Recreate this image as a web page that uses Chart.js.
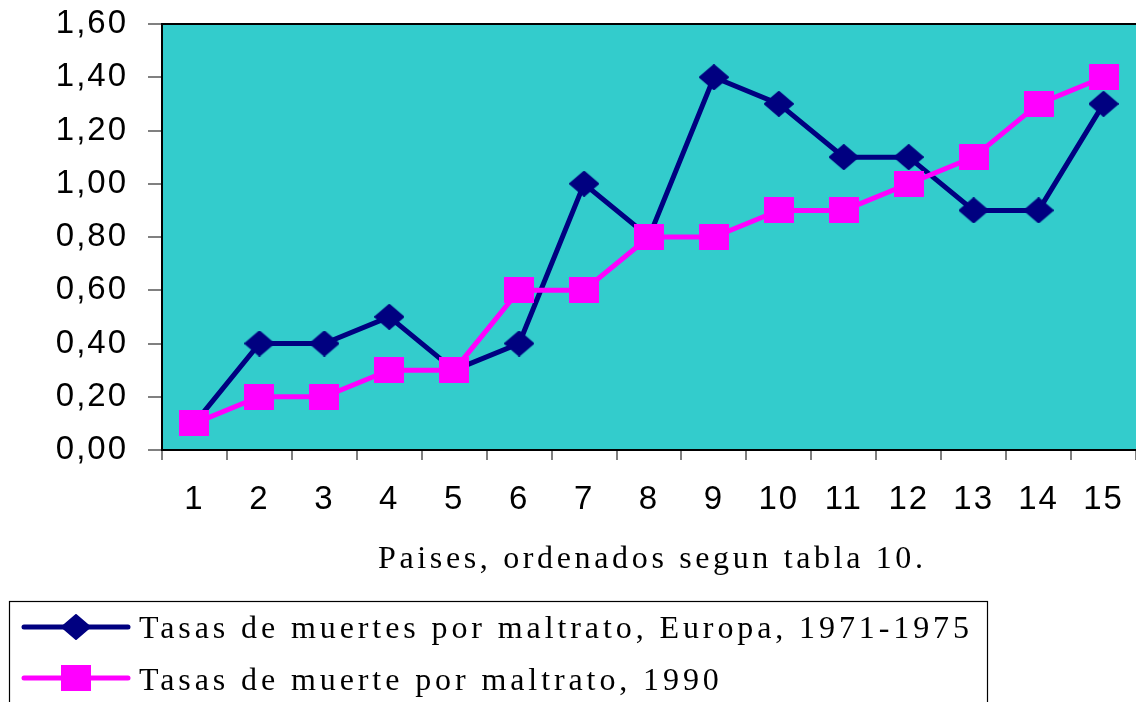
<!DOCTYPE html>
<html>
<head>
<meta charset="utf-8">
<script src="https://cdn.jsdelivr.net/npm/chart.js@4.4.1/dist/chart.umd.min.js"></script>
<style>
  html, body { margin: 0; padding: 0; background: #fff; }
</style>
</head>
<body>
<canvas id="myChart" width="1136" height="702"></canvas>
<script>
const paises = ['1', '2', '3', '4', '5', '6', '7', '8', '9', '10', '11', '12', '13', '14', '15'];
const europa7175 = [0.1, 0.4, 0.4, 0.5, 0.3, 0.4, 1.0, 0.8, 1.4, 1.3, 1.1, 1.1, 0.9, 0.9, 1.3];
const muerte1990 = [0.1, 0.2, 0.2, 0.3, 0.3, 0.6, 0.6, 0.8, 0.8, 0.9, 0.9, 1.0, 1.1, 1.3, 1.4];
const nombreEuropa = 'Tasas de muertes por maltrato, Europa, 1971-1975';
const nombre1990 = 'Tasas de muerte por maltrato, 1990';
const tituloX = 'Paises, ordenados segun tabla 10.';

const azul = '#000080';
const rosa = '#ff00ff';

// marcas como pequeños canvas
function rombo(w, h) {
    const c = document.createElement('canvas');
    c.width = w; c.height = h;
    const g = c.getContext('2d');
    g.fillStyle = azul; g.strokeStyle = azul;
    g.lineWidth = 2; g.lineJoin = 'round';
    g.beginPath();
    g.moveTo(w / 2, 1); g.lineTo(w - 1, h / 2); g.lineTo(w / 2, h - 1); g.lineTo(1, h / 2);
    g.closePath(); g.fill(); g.stroke();
    return c;
}
function cuadro(w, h) {
    const c = document.createElement('canvas');
    c.width = w; c.height = h;
    const g = c.getContext('2d');
    g.fillStyle = rosa;
    g.fillRect(0, 0, w, h);
    return c;
}
const marcaRombo = rombo(30, 26);
const marcaCuadro = cuadro(30, 26);

// texto con espaciado para ocupar un ancho dado
function espaciado(ctx, txt, ancho, font) {
    ctx.save();
    ctx.font = font;
    ctx.letterSpacing = '0px';
    const w0 = ctx.measureText(txt).width;
    ctx.restore();
    return (ancho - w0) / (txt.length - 1);
}
function texto(ctx, txt, x, y, sp, font) {
    ctx.save();
    ctx.font = font;
    ctx.letterSpacing = sp + 'px';
    ctx.fillStyle = '#000';
    ctx.textAlign = 'left';
    ctx.textBaseline = 'alphabetic';
    ctx.fillText(txt, x, y);
    ctx.restore();
}

const fondo = {
    id: 'fondo',
    beforeDraw(chart) {
        const { ctx, chartArea: a } = chart;
        ctx.save();
        ctx.fillStyle = '#33cccc';
        ctx.fillRect(a.left, a.top, a.right - a.left, a.bottom - a.top);
        ctx.strokeStyle = '#000';
        ctx.lineWidth = 2;
        ctx.beginPath();
        ctx.moveTo(a.left, a.bottom);
        ctx.lineTo(a.left, a.top);
        ctx.lineTo(a.right, a.top);
        ctx.stroke();
        ctx.restore();
        ctx.letterSpacing = '2px';
    }
};

const leyenda = {
    id: 'leyenda',
    afterDraw(chart) {
        const ctx = chart.ctx;
        const serif = '"Liberation Serif", "Times New Roman", serif';
        const f = '32px ' + serif;
        texto(ctx, tituloX, 378, 568, espaciado(ctx, tituloX, 545, f), f);

        ctx.save();
        ctx.letterSpacing = '0px';
        ctx.strokeStyle = '#000';
        ctx.lineWidth = 1.2;
        ctx.strokeRect(9.5, 601.5, 978, 200);

        const filas = [
            { y: 627, color: azul, marca: marcaRombo, txt: nombreEuropa, base: 638 },
            { y: 678, color: rosa, marca: marcaCuadro, txt: nombre1990, base: 690 }
        ];
        filas.forEach(r => {
            ctx.strokeStyle = r.color;
            ctx.lineWidth = 5;
            ctx.lineCap = 'round';
            ctx.beginPath();
            ctx.moveTo(24, r.y);
            ctx.lineTo(128, r.y);
            ctx.stroke();
            ctx.drawImage(r.marca, 76 - r.marca.width / 2, r.y - r.marca.height / 2);
        });
        ctx.restore();

        const sp = espaciado(ctx, nombreEuropa, 830, f);
        filas.forEach(r => texto(ctx, r.txt, 139, r.base, sp, f));
    }
};

const data = {
    labels: paises,
    datasets: [{
        label: nombreEuropa,
        data: europa7175,
        borderColor: azul,
        backgroundColor: azul,
        borderWidth: 5,
        pointStyle: marcaRombo,
        order: 2
    }, {
        label: nombre1990,
        data: muerte1990,
        borderColor: rosa,
        backgroundColor: rosa,
        borderWidth: 5,
        pointStyle: marcaCuadro,
        order: 1
    }]
};

const tickFont = { family: '"Liberation Sans", Arial, sans-serif', size: 33 };

const config = {
    type: 'line',
    data: data,
    options: {
        responsive: false,
        animation: false,
        layout: { autoPadding: false, padding: { top: 24, right: -6, bottom: 192, left: 0 } },
        elements: { line: { tension: 0 }, point: { radius: 13 } },
        plugins: { legend: { display: false }, tooltip: { enabled: false } },
        scales: {
            x: {
                offset: true,
                grid: { offset: true, drawOnChartArea: false, tickLength: 10, color: '#808080', lineWidth: 2 },
                border: { color: '#000', width: 2 },
                ticks: { color: '#000', font: tickFont, padding: 20, autoSkip: false, maxRotation: 0 },
                afterFit(scale) {
                    scale.height = 60;
                    scale.paddingLeft = 0;
                    scale.paddingRight = -6;
                }
            },
            y: {
                min: 0,
                max: 1.6,
                grid: { drawOnChartArea: false, tickLength: 14, color: '#808080', lineWidth: 2 },
                border: { color: '#000', width: 2 },
                ticks: {
                    stepSize: 0.2,
                    color: '#000',
                    font: tickFont,
                    padding: 20,
                    callback: v => v.toFixed(2).replace('.', ',')
                },
                afterFit(scale) {
                    scale.width = 162;
                    scale.paddingTop = 0;
                    scale.paddingBottom = 0;
                    scale.paddingRight = -6;
                }
            }
        }
    },
    plugins: [fondo, leyenda]
};

var myChart = new Chart(document.getElementById('myChart'), config);
</script>
</body>
</html>
